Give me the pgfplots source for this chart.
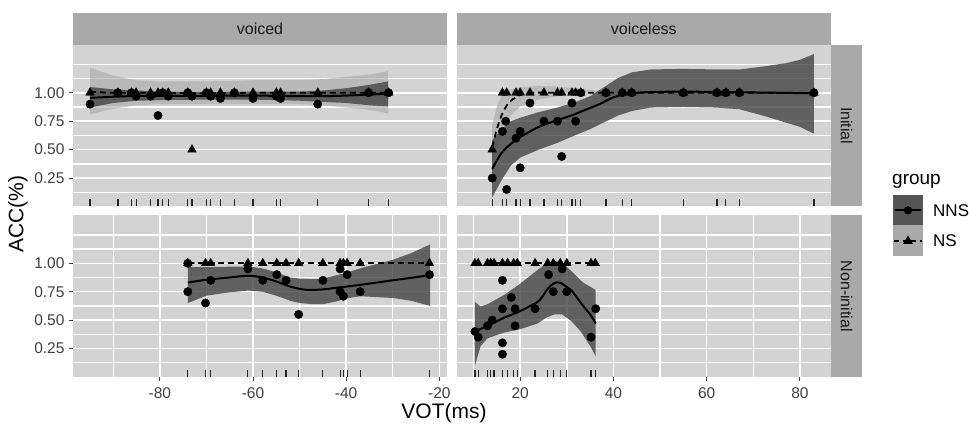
\documentclass[border=0pt]{standalone}
\usepackage{fontspec}
\setmainfont{Liberation Sans}
\usepackage{pgfplots}
\pgfplotsset{compat=1.18}
\definecolor{panelbg}{HTML}{D3D3D3}
\definecolor{stripbg}{HTML}{A9A9A9}
\definecolor{nnsband}{HTML}{444444}
\definecolor{nsband}{HTML}{A8A8A8}
\definecolor{tickgrey}{HTML}{404040}
\pgfplotsset{
 facet/.style={
  scale only axis, width=374pt, height=161.5pt,
  ymin=0, ymax=1.42,
  axis background/.style={fill=panelbg},
  axis line style={draw=none},
  grid=both,
  major grid style={white, line width=1.5pt},
  minor grid style={white, line width=1.4pt},
  tick align=outside,
  major tick length=4pt, minor tick length=0pt,
  tick style={color=black!75, line width=1pt},
  xtick pos=left, ytick pos=left,
  ticklabel style={font=\fontsize{15.5}{17}\selectfont, text=tickgrey},
  xticklabel style={yshift=-3pt},
  yticklabel style={xshift=-1pt},
  ytick={0.25,0.5,0.75,1},
  minor ytick={0.125,0.375,0.625,0.875,1.125,1.25},
 },
 leftcol/.style={xmin=-98.65, xmax=-18.35},
 rightcol/.style={xmin=6.35, xmax=86.65},
 ylab/.style={yticklabels={0.25,0.50,0.75,1.00}},
 ynolab/.style={yticklabels={}, ytick pos=right},
 nsband/.style={fill=nsband, fill opacity=0.6, draw=none},
 nnsband/.style={fill=nnsband, fill opacity=0.8, draw=none},
 nsline/.style={black, line width=1.8pt, dash pattern=on 6pt off 4pt, smooth},
 nnsline/.style={black, line width=2pt, smooth},
 nspts/.style={only marks, mark=triangle*, mark size=5pt, mark options={fill=black, draw=black}},
 nnspts/.style={only marks, mark=*, mark size=4.2pt, mark options={fill=black, draw=black}},
 rug/.style={only marks, mark=|, mark size=3.5pt, mark options={line width=1.2pt, draw=black!85}},
}
\begin{document}
\begin{tikzpicture}
\useasboundingbox (0pt,0pt) rectangle (969pt,427pt);
% ---------- top left: voiced / Initial
\begin{axis}[facet, leftcol, ylab, at={(73pt,382pt)}, anchor=north west,
  xtick=\empty, minor xtick={-90,-80,-70,-60,-50,-40,-30,-20}]
\addplot[nsband] coordinates {(-95,1.22)(-90,1.15)(-85,1.11)(-80,1.10)(-70,1.10)(-60,1.11)(-50,1.11)(-45,1.12)(-40,1.14)(-35,1.16)(-31,1.19)
 (-31,0.82)(-35,0.85)(-40,0.87)(-45,0.89)(-50,0.90)(-60,0.90)(-70,0.90)(-80,0.90)(-85,0.89)(-90,0.86)(-95,0.81)};
\addplot[nnsband] coordinates {(-95,1.05)(-90,1.03)(-85,1.02)(-80,1.01)(-70,1.005)(-60,1.01)(-50,1.01)(-45,1.02)(-40,1.04)(-35,1.07)(-31,1.10)
 (-31,0.88)(-35,0.89)(-40,0.91)(-45,0.92)(-50,0.93)(-60,0.94)(-70,0.94)(-80,0.935)(-85,0.93)(-90,0.91)(-95,0.87)};
\addplot[nsline] coordinates {(-95,1.01)(-90,1.0)(-80,1.0)(-70,0.995)(-60,1.0)(-50,1.0)(-40,1.0)(-31,1.0)};
\addplot[nnsline] coordinates {(-95,0.955)(-90,0.965)(-85,0.972)(-80,0.973)(-70,0.973)(-60,0.975)(-50,0.97)(-45,0.97)(-40,0.975)(-35,0.985)(-31,0.99)};
\addplot[nspts] coordinates {(-95,1)(-89,1)(-86.1,1)(-85.1,1)(-82,1)(-80.4,1)(-79.4,1)(-78.2,1)(-74,1)(-73.1,0.5)(-70,1)(-69.1,1)(-67,1)(-64,1)(-60,1)(-55,1)(-54.1,1)(-46.1,1)(-35.2,1)(-30.9,1)};
\addplot[nnspts] coordinates {(-95,0.9)(-89,1)(-86.1,1)(-85.1,0.97)(-82,0.97)(-80.4,0.8)(-79.4,1)(-78.2,0.97)(-74,1)(-73.1,0.97)(-70,1)(-69.1,0.97)(-67,0.95)(-64,1)(-60,0.95)(-55,0.97)(-54.1,0.95)(-46.1,0.9)(-35.2,1)(-30.9,1)};
\addplot[rug] coordinates {(-95,0.031)(-89,0.031)(-86.1,0.031)(-85.1,0.031)(-82,0.031)(-80.4,0.031)(-79.4,0.031)(-78.2,0.031)(-74,0.031)(-73.1,0.031)(-70,0.031)(-69.1,0.031)(-67,0.031)(-64,0.031)(-60,0.031)(-55,0.031)(-54.1,0.031)(-46.1,0.031)(-35.2,0.031)(-30.9,0.031)};
\end{axis}
% ---------- top right: voiceless / Initial
\begin{axis}[facet, rightcol, ynolab, at={(456.5pt,382pt)}, anchor=north west, width=374.5pt,
  xtick=\empty, minor xtick={10,20,30,40,50,60,70,80}]
\addplot[nsband] coordinates {(14,0.72)(15,0.88)(16,0.97)(18,1.03)(20,1.05)(24,1.06)(28,1.055)(32,1.04)(36,1.02)(40,1.01)(83,1.005)
 (83,0.995)(40,0.995)(36,0.99)(32,0.985)(28,0.97)(24,0.94)(20,0.88)(18,0.80)(16,0.66)(15,0.52)(14,0.32)};
\addplot[nnsband] coordinates {(14,0.58)(16,0.68)(18,0.75)(20,0.78)(24,0.83)(28,0.87)(32,0.92)(35,0.97)(38,1.05)(41,1.13)(44,1.18)(48,1.205)(55,1.21)(62,1.205)(67,1.205)(72,1.23)(77,1.26)(80,1.29)(83,1.34)
 (83,0.64)(80,0.70)(76,0.75)(72,0.80)(67,0.855)(62,0.87)(55,0.875)(48,0.87)(44,0.84)(41,0.80)(38,0.74)(35,0.68)(32,0.63)(28,0.56)(24,0.50)(20,0.43)(18,0.36)(16,0.23)(14,0.08)};
\addplot[nsline] coordinates {(14,0.52)(15,0.68)(16,0.80)(17,0.88)(18,0.93)(20,0.98)(22,1.0)(30,1.0)(40,1.0)(60,1.0)(83,1.0)};
\addplot[nnsline] coordinates {(14,0.33)(16,0.47)(18,0.55)(20,0.61)(24,0.70)(28,0.76)(31,0.80)(34,0.85)(37,0.90)(40,0.96)(43,0.99)(47,1.005)(55,1.01)(65,1.005)(75,1.0)(83,0.995)};
\addplot[nspts] coordinates {(14,0.5)(16.2,1)(17.1,1)(19.1,1)(20,1)(22.1,1)(25.1,1)(28,1)(28.9,1)(31.1,1)(31.9,1)(33,1)(38.4,1)(41.9,1)(43.9,1)(55,1)(62.2,1)(64.1,1)(67,1)(83,1)};
\addplot[nnspts] coordinates {(14,0.25)(16.2,0.66)(16.9,0.75)(17.1,0.15)(19.1,0.6)(20,0.66)(20,0.34)(22.1,0.91)(25.1,0.75)(28,0.75)(28.9,0.44)(31.1,0.91)(31.9,0.75)(33,1)(38.4,1)(41.9,1)(43.9,1)(55,1)(62.2,1)(64.1,1)(67,1)(83,1)};
\addplot[rug] coordinates {(14,0.031)(16.2,0.031)(17.1,0.031)(19.1,0.031)(20,0.031)(22.1,0.031)(25.1,0.031)(28,0.031)(28.9,0.031)(31.1,0.031)(31.9,0.031)(33,0.031)(38.4,0.031)(41.9,0.031)(43.9,0.031)(55,0.031)(62.2,0.031)(64.1,0.031)(67,0.031)(83,0.031)};
\end{axis}
% ---------- bottom left: voiced / Non-initial
\begin{axis}[facet, leftcol, ylab, at={(73pt,211.5pt)}, anchor=north west,
  xtick={-80,-60,-40,-20}, xticklabels={-80,-60,-40,-20}, minor xtick={-90,-70,-50,-30}]
\addplot[nnsband] coordinates {(-74,0.965)(-70,0.965)(-65,0.97)(-61,0.972)(-58,0.955)(-55,0.92)(-52,0.875)(-50,0.865)(-47,0.86)(-45,0.865)(-42,0.895)(-40,0.915)(-37,0.955)(-30,1.03)(-26,1.09)(-22,1.165)
 (-22,0.625)(-26,0.67)(-30,0.695)(-37,0.71)(-40,0.69)(-42,0.665)(-45,0.64)(-47,0.64)(-50,0.65)(-52,0.67)(-55,0.715)(-58,0.75)(-61,0.76)(-65,0.745)(-70,0.715)(-74,0.65)};
\addplot[nsline] coordinates {(-74,1.0)(-22,1.0)};
\addplot[nnsline] coordinates {(-74,0.83)(-70,0.855)(-65,0.875)(-61,0.89)(-58,0.875)(-55,0.84)(-52,0.795)(-50,0.775)(-48,0.765)(-45,0.77)(-42,0.785)(-40,0.795)(-37,0.81)(-30,0.85)(-22,0.895)};
\addplot[nspts] coordinates {(-74,1)(-70.2,1)(-69.1,1)(-61.1,1)(-57.9,1)(-54.9,1)(-52.9,1)(-50.2,1)(-45,1)(-41.3,1)(-40.6,1)(-39.8,1)(-37,1)(-22.1,1)};
\addplot[nnspts] coordinates {(-74,1.0)(-74,0.75)(-70.2,0.65)(-69.1,0.85)(-61.1,0.95)(-57.9,0.85)(-54.9,0.9)(-52.9,0.85)(-50.2,0.55)(-45,0.85)(-41.3,0.95)(-41.3,0.75)(-40.6,0.71)(-39.8,0.9)(-37,0.75)(-22.1,0.9)};
\addplot[rug] coordinates {(-74,0.031)(-70.2,0.031)(-69.1,0.031)(-61.1,0.031)(-57.9,0.031)(-54.9,0.031)(-52.9,0.031)(-50.2,0.031)(-45,0.031)(-41.3,0.031)(-40.6,0.031)(-39.8,0.031)(-37,0.031)(-22.1,0.031)};
\end{axis}
% ---------- bottom right: voiceless / Non-initial
\begin{axis}[facet, rightcol, ynolab, at={(456.5pt,211.5pt)}, anchor=north west, width=374.5pt,
  xtick={20,40,60,80}, xticklabels={20,40,60,80}, minor xtick={10,30,50,70}]
\addplot[nnsband] coordinates {(10.3,0.66)(11.5,0.62)(13,0.64)(16.5,0.72)(20,0.82)(23.7,0.94)(25.5,0.995)(27.3,1.02)(29,1.01)(31,0.93)(33.5,0.83)(36.2,0.765)
 (36.2,0.18)(35.2,0.26)(33,0.40)(31,0.49)(29,0.55)(27.3,0.55)(25.5,0.52)(23.7,0.47)(20,0.42)(16.5,0.39)(13,0.34)(11.5,0.27)(10.3,0.10)};
\addplot[nsline] coordinates {(10.3,1.0)(36.1,1.0)};
\addplot[nnsline] coordinates {(10.3,0.40)(13,0.45)(16.5,0.52)(20,0.58)(23.7,0.66)(24.8,0.71)(26,0.78)(27.3,0.825)(28.5,0.83)(29.7,0.80)(31,0.76)(32.5,0.68)(34,0.60)(35.2,0.54)(36.2,0.47)};
\addplot[nspts] coordinates {(10.3,1)(11,1)(13,1)(13.7,1)(14.4,1)(16.2,1)(17.3,1)(18.6,1)(19.4,1)(23.2,1)(25.9,1)(27.1,1)(28.6,1)(30,1)(35.2,1)(36.1,1)};
\addplot[nnspts] coordinates {(10.3,0.40)(11,0.35)(13,0.45)(14,0.5)(16.2,0.85)(16.2,0.6)(16.2,0.3)(16.2,0.2)(18.1,0.70)(18.9,0.6)(18.9,0.45)(23.2,0.6)(26.1,0.9)(27.1,0.75)(29,0.95)(30,0.75)(35.2,0.35)(36.2,0.6)};
\addplot[rug] coordinates {(10.3,0.031)(11,0.031)(13,0.031)(13.7,0.031)(14.4,0.031)(16.2,0.031)(17.3,0.031)(18.6,0.031)(19.4,0.031)(23.2,0.031)(25.9,0.031)(27.1,0.031)(28.6,0.031)(30,0.031)(35.2,0.031)(36.1,0.031)};
\end{axis}
% ---------- strips (drawn last: they also cover the hidden right-hand y ticks)
\fill[stripbg] (73pt,382pt) rectangle (447pt,414pt);
\fill[stripbg] (456.5pt,382pt) rectangle (831pt,414pt);
\fill[stripbg] (831pt,382pt) rectangle (862pt,220.5pt);
\fill[stripbg] (831pt,211.5pt) rectangle (862pt,50pt);
\node[text=black!90, font=\fontsize{16}{18}\selectfont] at (260pt,398pt) {voiced};
\node[text=black!90, font=\fontsize{16}{18}\selectfont] at (643.75pt,398pt) {voiceless};
\node[text=black!90, font=\fontsize{16}{18}\selectfont, rotate=-90] at (846.5pt,301.25pt) {Initial};
\node[text=black!90, font=\fontsize{16}{18}\selectfont, rotate=-90] at (846.5pt,130.75pt) {Non-initial};
% ---------- axis titles
\node[font=\fontsize{21}{24}\selectfont, rotate=90] at (18pt,213pt) {ACC(\%)};
\node[font=\fontsize{21}{24}\selectfont] at (444pt,14pt) {VOT(ms)};
% ---------- legend
\node[font=\fontsize{19}{22}\selectfont, anchor=west, inner sep=0pt] at (892pt,246pt) {group};
\fill[black!67] (893pt,232pt) rectangle (923pt,201.5pt);
\fill[stripbg] (893pt,201.5pt) rectangle (923pt,171pt);
\draw[black, line width=2pt] (895pt,216.75pt) -- (921pt,216.75pt);
\fill[black] (908pt,216.75pt) circle (4.2pt);
\draw[black, line width=1.8pt, dash pattern=on 5pt off 3.5pt] (894pt,186.25pt) -- (922pt,186.25pt);
\fill[black] (908pt,191.5pt) -- (903pt,183pt) -- (913pt,183pt) -- cycle;
\node[font=\fontsize{17}{20}\selectfont, anchor=west, inner sep=0pt] at (933pt,216.75pt) {NNS};
\node[font=\fontsize{17}{20}\selectfont, anchor=west, inner sep=0pt] at (933pt,186.25pt) {NS};
\end{tikzpicture}
\end{document}
